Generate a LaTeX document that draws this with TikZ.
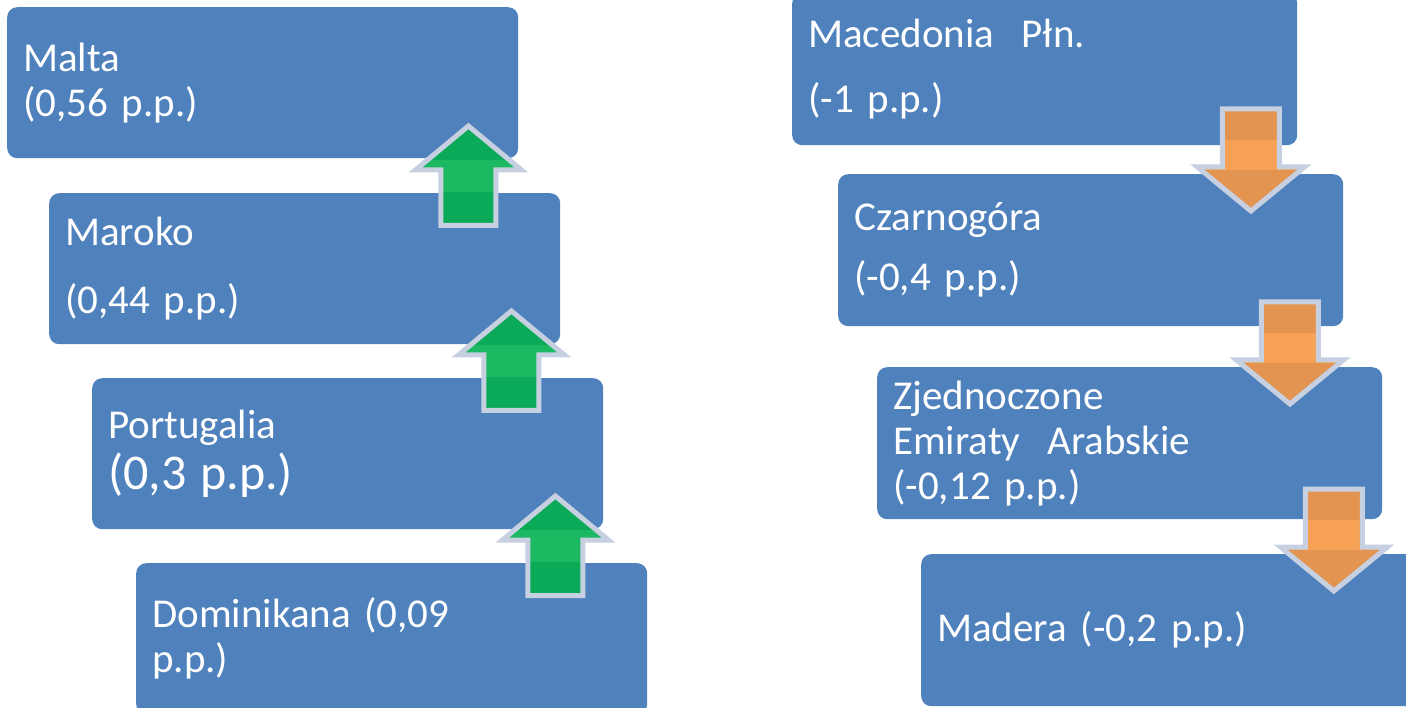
\documentclass[tikz,border=0pt]{standalone}
\usepackage{fontspec}
\setmainfont{Carlito}
\usetikzlibrary{calc}

\definecolor{boxblue}{HTML}{4F81BD}
\definecolor{darkgreen}{HTML}{0BAA58}
\definecolor{lightgreen}{HTML}{1DB862}
\definecolor{darkorange}{HTML}{E29450}
\definecolor{lightorange}{HTML}{F6A155}
\definecolor{rim}{HTML}{C6D0E0}

\tikzset{
  box/.style={fill=boxblue, rounded corners=10pt, text=white, anchor=north west,
    minimum width=511pt, minimum height=151pt, text width=479pt,
    inner xsep=16pt, inner ysep=0pt, align=left, font=\fontsize{41}{45}\selectfont},
  rbox/.style={box, minimum width=505pt, text width=473pt, minimum height=152pt},
  uparrow/.style={draw=rim, line width=5pt, fill=darkgreen,
    path picture={\fill[lightgreen]
      ($(path picture bounding box.north west)!0.34!(path picture bounding box.south west)$) rectangle
      ($(path picture bounding box.north east)!0.66!(path picture bounding box.south east)$);}},
  downarrow/.style={draw=rim, line width=5pt, fill=darkorange,
    path picture={\fill[lightorange]
      ($(path picture bounding box.north west)!0.3!(path picture bounding box.south west)$) rectangle
      ($(path picture bounding box.north east)!0.6!(path picture bounding box.south east)$);}}
}

\begin{document}
\begin{tikzpicture}[x=1pt,y=-1pt]
  \useasboundingbox (0,0) rectangle (1406,708);

  % rising
  \node[box] (malta) at (7,7) {Malta\\(0,56 p.p.)};
  \node[box] (maroko) at (49,193) {Maroko\\[23pt](0,44 p.p.)};
  \node[box] (portugalia) at (92,378) {Portugalia\\[6pt]{\fontsize{50}{55}\selectfont (0,3 p.p.)}};
  \node[box] (dominikana) at (136,563) {Dominikana (0,09\\p.p.)};

  % falling
  \node[rbox] (macedonia) at (792,-7) {Macedonia\ \ Płn.\\[20pt](-1 p.p.)};
  \node[rbox] (czarnogora) at (838,174) {Czarnogóra\\[15pt](-0,4 p.p.)};
  \node[rbox] (zea) at (877,367) {Zjednoczone\\Emiraty\ \ Arabskie\\(-0,12 p.p.)};
  \node[rbox] (madera) at (921,554) {Madera (-0,2 p.p.)};

  \foreach \b in {maroko,portugalia,dominikana}
    \draw[uparrow] ([shift={(-92,-67)}]\b.north east) -- ++(53,44) -- ++(-25.5,0)
      -- ++(0,55.5) -- ++(-55,0) -- ++(0,-55.5) -- ++(-25.5,0) -- cycle;

  \foreach \b in {czarnogora,zea,madera}
    \draw[downarrow] ([shift={(-121,-65)}]\b.north east) -- ++(57,0) -- ++(0,58)
      -- ++(25,0) -- ++(-53.5,44) -- ++(-53.5,-44) -- ++(25,0) -- cycle;
\end{tikzpicture}
\end{document}
